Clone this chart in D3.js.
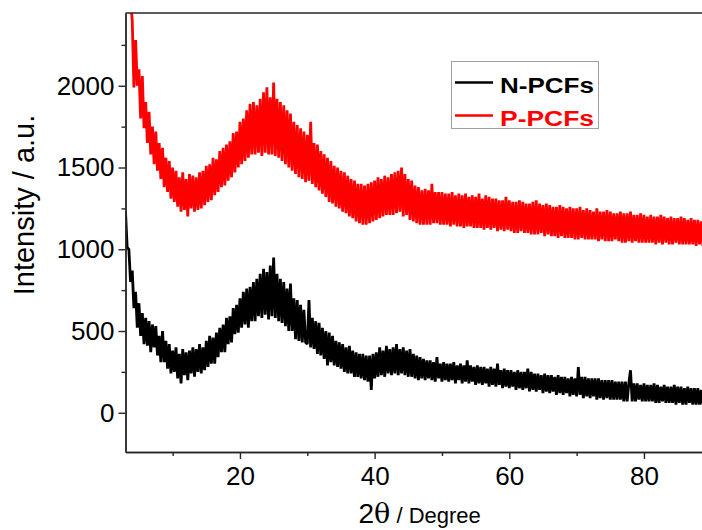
<!DOCTYPE html>
<html>
<head>
<meta charset="utf-8">
<script src="https://cdn.jsdelivr.net/npm/d3@7"></script>
<style>
  html, body { margin: 0; padding: 0; background: #fff; }
  svg { display: block; }
  text { font-family: "Liberation Sans", Arial, sans-serif; }
</style>
</head>
<body>
<svg id="chart" width="702" height="530"></svg>
<script>
// ---- data ----
const seriesNames = ["N-PCFs", "P-PCFs"];
const seriesColors = ["#000000", "#ff0000"];
const twoThetaStart = 3;      // first 2θ value (degree)
const twoThetaStep = 0.25;    // sampling step (degree)

// N-PCFs intensity, 4 samples per degree starting at 3.00
const nPCFs = [
  1230, 1010, 1000, 800,   // 3
  870, 640, 740, 520,      // 4
  670, 470, 610, 420,      // 5
  580, 410, 560, 370,      // 6
  540, 400, 530, 350,      // 7
  470, 310, 500, 310,      // 8
  440, 270, 420, 240,      // 9
  380, 250, 400, 210,      // 10
  360, 180, 390, 230,      // 11
  370, 200, 380, 240,      // 12
  400, 220, 390, 250,      // 13
  420, 240, 400, 260,      // 14
  440, 280, 470, 300,      // 15
  460, 300, 490, 340,      // 16
  520, 370, 540, 370,      // 17
  580, 420, 590, 430,      // 18
  640, 480, 660, 490,      // 19
  700, 520, 740, 540,      // 20
  760, 520, 770, 560,      // 21
  800, 560, 820, 590,      // 22
  850, 580, 880, 600,      // 23
  860, 570, 900, 590,      // 24
  950, 580, 850, 560,      // 25
  820, 550, 800, 530,      // 26
  760, 500, 790, 500,      // 27
  700, 450, 690, 440,      // 28
  660, 430, 630, 430,      // 29
  420, 690, 400, 580,      // 30
  390, 560, 360, 550,      // 31
  350, 520, 330, 500,      // 32
  290, 490, 310, 470,      // 33
  290, 440, 280, 430,      // 34
  270, 420, 250, 400,      // 35
  240, 410, 240, 380,      // 36
  220, 370, 220, 360,      // 37
  210, 360, 200, 350,      // 38
  190, 350, 140, 360,      // 39
  210, 370, 220, 400,      // 40
  230, 380, 220, 410,      // 41
  240, 390, 230, 400,      // 42
  240, 420, 230, 390,      // 43
  240, 400, 230, 380,      // 44
  220, 390, 220, 360,      // 45
  210, 350, 200, 340,      // 46
  210, 330, 200, 320,      // 47
  210, 320, 200, 310,      // 48
  190, 340, 210, 300,      // 49
  190, 310, 200, 300,      // 50
  190, 300, 200, 310,      // 51
  180, 290, 200, 300,      // 52
  180, 290, 190, 320,      // 53
  180, 290, 190, 280,      // 54
  170, 290, 180, 280,      // 55
  170, 280, 180, 270,      // 56
  160, 280, 170, 270,      // 57
  160, 300, 170, 260,      // 58
  150, 270, 160, 260,      // 59
  150, 260, 160, 250,      // 60
  140, 260, 150, 250,      // 61
  140, 250, 150, 270,      // 62
  130, 250, 140, 240,      // 63
  130, 240, 140, 230,      // 64
  120, 240, 130, 230,      // 65
  120, 230, 130, 220,      // 66
  110, 230, 120, 220,      // 67
  110, 220, 120, 210,      // 68
  100, 220, 110, 210,      // 69
  100, 280, 110, 220,      // 70
  90, 220, 100, 210,       // 71
  90, 210, 100, 210,       // 72
  80, 210, 90, 200,        // 73
  80, 200, 90, 200,        // 74
  80, 200, 80, 190,        // 75
  80, 190, 80, 190,        // 76
  70, 190, 70, 180,        // 77
  260, 70, 180, 70,        // 78
  180, 80, 170, 70,        // 79
  180, 70, 170, 70,        // 80
  170, 70, 180, 60,        // 81
  170, 60, 160, 70,        // 82
  170, 60, 160, 60,        // 83
  160, 60, 170, 50,        // 84
  160, 60, 160, 50,        // 85
  150, 50, 160, 60,        // 86
  150, 50, 150, 50,        // 87
  150, 50, 140, 50,        // 88
  120                      // 89
];

// P-PCFs intensity, 4 samples per degree starting at 3.00
const pPCFs = [
  3100, 2900, 2750, 2520,  // 3
  2400, 1990, 2280, 2000,  // 4
  2100, 1800, 2060, 1740,  // 5
  1900, 1650, 1840, 1580,  // 6
  1750, 1520, 1720, 1480,  // 7
  1650, 1430, 1620, 1380,  // 8
  1560, 1350, 1540, 1310,  // 9
  1500, 1290, 1480, 1260,  // 10
  1440, 1230, 1470, 1240,  // 11
  1430, 1200, 1460, 1250,  // 12
  1450, 1230, 1440, 1240,  // 13
  1470, 1250, 1480, 1270,  // 14
  1510, 1290, 1520, 1300,  // 15
  1560, 1330, 1550, 1350,  // 16
  1600, 1380, 1620, 1390,  // 17
  1640, 1420, 1660, 1440,  // 18
  1710, 1470, 1720, 1500,  // 19
  1780, 1520, 1800, 1540,  // 20
  1850, 1560, 1890, 1580,  // 21
  1900, 1580, 1880, 1590,  // 22
  1920, 1570, 1960, 1590,  // 23
  1990, 1580, 1930, 1580,  // 24
  2020, 1570, 1920, 1560,  // 25
  1900, 1540, 1880, 1520,  // 26
  1850, 1500, 1830, 1480,  // 27
  1780, 1460, 1760, 1440,  // 28
  1740, 1430, 1720, 1410,  // 29
  1700, 1420, 1780, 1400,  // 30
  1650, 1380, 1640, 1360,  // 31
  1600, 1340, 1580, 1320,  // 32
  1560, 1290, 1540, 1280,  // 33
  1510, 1260, 1500, 1250,  // 34
  1480, 1230, 1470, 1220,  // 35
  1450, 1200, 1430, 1190,  // 36
  1420, 1170, 1400, 1160,  // 37
  1400, 1150, 1390, 1150,  // 38
  1400, 1160, 1410, 1170,  // 39
  1420, 1180, 1440, 1190,  // 40
  1430, 1200, 1450, 1210,  // 41
  1440, 1210, 1460, 1210,  // 42
  1470, 1220, 1480, 1230,  // 43
  1500, 1200, 1460, 1210,  // 44
  1430, 1180, 1420, 1170,  // 45
  1390, 1160, 1380, 1150,  // 46
  1360, 1150, 1370, 1150,  // 47
  1360, 1150, 1400, 1160,  // 48
  1350, 1160, 1350, 1150,  // 49
  1350, 1150, 1340, 1150,  // 50
  1340, 1140, 1350, 1150,  // 51
  1330, 1140, 1340, 1140,  // 52
  1330, 1130, 1340, 1140,  // 53
  1320, 1140, 1330, 1130,  // 54
  1320, 1130, 1340, 1130,  // 55
  1310, 1120, 1330, 1130,  // 56
  1320, 1120, 1310, 1130,  // 57
  1310, 1110, 1300, 1120,  // 58
  1300, 1110, 1320, 1120,  // 59
  1300, 1110, 1290, 1100,  // 60
  1290, 1100, 1300, 1110,  // 61
  1290, 1100, 1280, 1100,  // 62
  1280, 1090, 1290, 1090,  // 63
  1300, 1090, 1280, 1100,  // 64
  1270, 1080, 1280, 1090,  // 65
  1270, 1080, 1260, 1080,  // 66
  1260, 1070, 1270, 1080,  // 67
  1260, 1070, 1250, 1070,  // 68
  1260, 1070, 1250, 1060,  // 69
  1250, 1060, 1260, 1070,  // 70
  1240, 1060, 1250, 1060,  // 71
  1240, 1060, 1230, 1060,  // 72
  1250, 1050, 1230, 1060,  // 73
  1230, 1050, 1240, 1050,  // 74
  1230, 1050, 1220, 1060,  // 75
  1220, 1050, 1230, 1040,  // 76
  1220, 1040, 1220, 1050,  // 77
  1230, 1040, 1210, 1050,  // 78
  1210, 1040, 1220, 1040,  // 79
  1210, 1040, 1200, 1040,  // 80
  1210, 1040, 1200, 1030,  // 81
  1200, 1040, 1210, 1030,  // 82
  1200, 1040, 1190, 1030,  // 83
  1200, 1030, 1190, 1040,  // 84
  1190, 1030, 1200, 1030,  // 85
  1190, 1030, 1180, 1030,  // 86
  1190, 1030, 1180, 1020,  // 87
  1180, 1030, 1170, 1020,  // 88
  1110                     // 89
];

const xTickValues = [20, 40, 60, 80];
const xMinorTickValues = [10, 30, 50, 70, 90];
const yTickValues = [0, 500, 1000, 1500, 2000];
const yMinorTickValues = [250, 750, 1250, 1750, 2250];
const xDomain = [3, 90];
const yDomain = [-240, 2445];
const xTitleMain = "2θ";
const xTitleUnit = " / Degree";
const yTitle = "Intensity / a.u.";

// ---- layout ----
const svg = d3.select("#chart");
svg.append("rect").attr("width", 702).attr("height", 530).attr("fill", "#fff");
const plot = { left: 125.5, top: 13, right: 711.3, bottom: 452 };

const x = d3.scaleLinear().domain(xDomain).range([plot.left, plot.right]);
const y = d3.scaleLinear().domain(yDomain).range([plot.bottom, plot.top]);

svg.append("clipPath").attr("id", "clip")
  .append("rect")
  .attr("x", plot.left).attr("y", plot.top)
  .attr("width", plot.right - plot.left).attr("height", plot.bottom - plot.top);

// series
const series = [nPCFs, pPCFs];
const line = d3.line()
  .x((d, i) => x(twoThetaStart + i * twoThetaStep))
  .y(d => y(d));

const gData = svg.append("g").attr("clip-path", "url(#clip)");
series.forEach((vals, k) => {
  gData.append("path")
    .datum(vals)
    .attr("d", line)
    .attr("fill", "none")
    .attr("stroke", seriesColors[k])
    .attr("stroke-width", 2.8)
    .attr("stroke-linejoin", "miter")
    .attr("stroke-miterlimit", 1.5);
});

// axes
const axisColor = "#262626";
const axisW = 1.4;
function styleAxis(g) {
  g.selectAll("path.domain").attr("stroke", axisColor).attr("stroke-width", axisW);
  g.selectAll(".tick line").attr("stroke", axisColor).attr("stroke-width", axisW);
  g.selectAll(".tick text").attr("fill", "#000").style("font-size", "26px")
    .style("font-family", '"Liberation Sans", Arial, sans-serif');
}

svg.append("g")
  .attr("transform", `translate(0,${plot.bottom})`)
  .call(d3.axisBottom(x).tickValues(xMinorTickValues).tickSize(4).tickSizeOuter(0).tickFormat(""))
  .call(styleAxis);
svg.append("g")
  .attr("transform", `translate(0,${plot.bottom})`)
  .call(d3.axisBottom(x).tickValues(xTickValues).tickSize(7).tickSizeOuter(0).tickPadding(8).tickFormat(d3.format("d")))
  .call(styleAxis);

svg.append("g")
  .attr("transform", `translate(${plot.left},0)`)
  .call(d3.axisLeft(y).tickValues(yMinorTickValues).tickSize(4).tickSizeOuter(0).tickFormat(""))
  .call(styleAxis);
svg.append("g")
  .attr("transform", `translate(${plot.left},0)`)
  .call(d3.axisLeft(y).tickValues(yTickValues).tickSize(7).tickSizeOuter(0).tickPadding(4).tickFormat(d3.format("d")))
  .call(styleAxis);

// top / right frame
svg.append("line")
  .attr("x1", plot.left).attr("x2", plot.right)
  .attr("y1", plot.top).attr("y2", plot.top)
  .attr("stroke", axisColor).attr("stroke-width", axisW);
svg.append("line")
  .attr("x1", plot.right).attr("x2", plot.right)
  .attr("y1", plot.top).attr("y2", plot.bottom)
  .attr("stroke", axisColor).attr("stroke-width", axisW);

// axis titles
const xt = svg.append("text")
  .attr("x", 358.5).attr("y", 523.3)
  .attr("fill", "#000");
xt.append("tspan").text("2").style("font-size", "28px");
xt.append("tspan").text("θ").style("font-size", "27px")
  .style("font-family", '"DejaVu Serif", "Liberation Serif", serif');
xt.append("tspan").text(xTitleUnit).style("font-size", "22px");

svg.append("text")
  .attr("transform", "translate(34,205) rotate(-90)")
  .attr("text-anchor", "middle")
  .style("font-size", "29px")
  .attr("fill", "#000")
  .text(yTitle);

// legend
const lg = svg.append("g");
lg.append("rect")
  .attr("x", 451.5).attr("y", 61.5).attr("width", 147).attr("height", 67)
  .attr("fill", "#fff").attr("stroke", "#a0a0a0").attr("stroke-width", 1);
const legendRows = [82.5, 115.5];
seriesNames.forEach((name, k) => {
  lg.append("line")
    .attr("x1", 455).attr("x2", 493)
    .attr("y1", legendRows[k]).attr("y2", legendRows[k])
    .attr("stroke", seriesColors[k]).attr("stroke-width", 2.5);
  lg.append("text")
    .attr("x", 500).attr("y", legendRows[k] + 5)
    .attr("dominant-baseline", "middle")
    .attr("fill", seriesColors[k])
    .style("font-size", "22px").style("font-weight", "bold")
    .attr("textLength", 94).attr("lengthAdjust", "spacingAndGlyphs")
    .text(name);
});
</script>
</body>
</html>
